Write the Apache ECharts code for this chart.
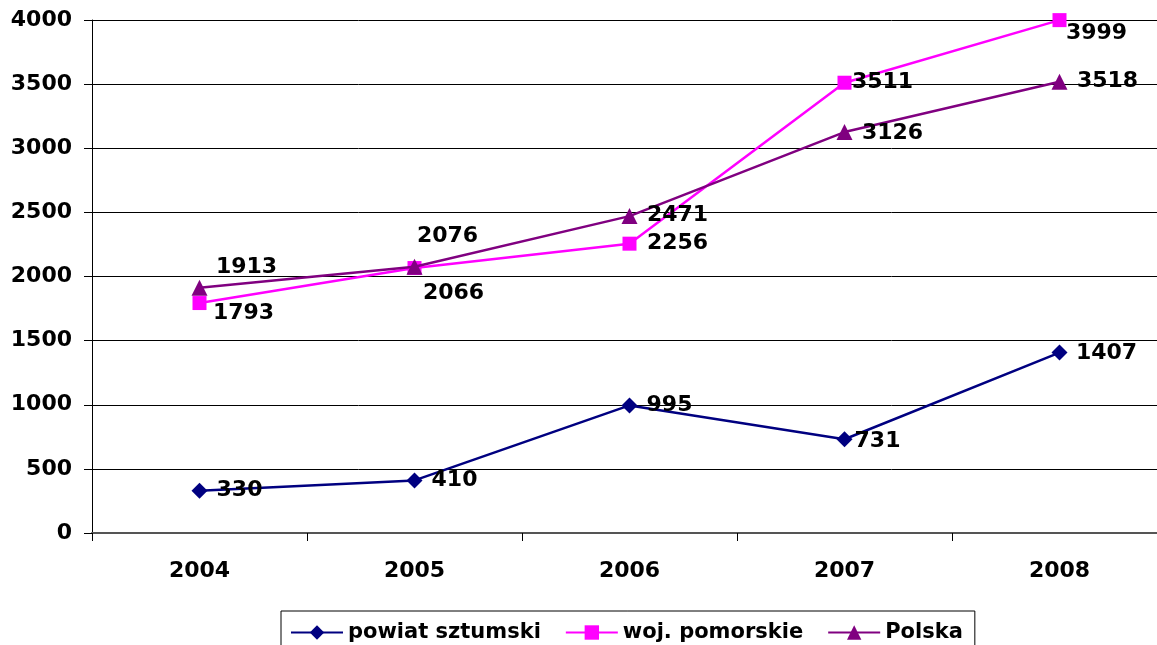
<!DOCTYPE html>
<html>
<head>
<meta charset="utf-8">
<script src="https://cdn.jsdelivr.net/npm/echarts@6/dist/echarts.min.js"></script>
<style>html,body{margin:0;padding:0;background:#fff}#c{width:1157px;height:645px}</style>
</head>
<body>
<div id="c"></div>
<script>
const categories = ['2004', '2005', '2006', '2007', '2008'];
const powiat = [330, 410, 995, 731, 1407];
const pomorskie = [1793, 2066, 2256, 3511, 3999];
const polska = [1913, 2076, 2471, 3126, 3518];
const yTicks = [0, 500, 1000, 1500, 2000, 2500, 3000, 3500, 4000];

const powiatOff = [[40,0],[40,0],[40,0],[33,2],[47,1]];
const pomOff = [[44,10],[39,25],[48,0],[38,0],[37,13]];
const polOff = [[47,-20],[33,-30],[48,-1],[48,1],[48,-1]];

const FONT = 'DejaVu Sans';
function mk(vals, offs) {
  return vals.map((v, i) => ({
    value: v,
    label: { offset: offs[i] }
  }));
}
const lbl = { show: true, position: 'inside', align: 'center', verticalAlign: 'middle',
  color: '#000', fontFamily: FONT, fontWeight: 'bold', fontSize: 22 };

const chart = echarts.init(document.getElementById('c'), null, { renderer: 'canvas' });
chart.setOption({
  animation: false,
  backgroundColor: '#fff',
  textStyle: { fontFamily: FONT },
  grid: { left: 92, width: 1075, top: 20, height: 513, containLabel: false, outerBoundsMode: 'none' },
  xAxis: {
    type: 'category', data: categories, boundaryGap: true,
    axisLine: { lineStyle: { color: '#555', width: 2 } },
    axisTick: { show: true, length: 8, lineStyle: { color: '#000' } },
    axisLabel: { color: '#000', fontFamily: FONT, fontWeight: 'bold', fontSize: 22, margin: 27 },
    splitLine: { show: false }
  },
  yAxis: {
    type: 'value', min: 0, max: 4000, interval: 500,
    axisLine: { show: true, lineStyle: { color: '#000', width: 1 } },
    axisTick: { show: true, length: 8, lineStyle: { color: '#000' } },
    axisLabel: { color: '#000', fontFamily: FONT, fontWeight: 'bold', fontSize: 22, margin: 20,
      formatter: v => yTicks.includes(v) ? String(v) : '' },
    splitLine: { show: true, lineStyle: { color: '#000', width: 1 } }
  },
  legend: {
    top: 611, left: 281,
    data: ['powiat sztumski', 'woj. pomorskie', 'Polska'],
    itemWidth: 52, itemHeight: 18, itemGap: 24,
    borderColor: '#000', borderWidth: 1, padding: [11, 12, 12, 9],
    textStyle: { color: '#000', fontFamily: FONT, fontWeight: 'bold', fontSize: 21 }
  },
  series: [
    { name: 'powiat sztumski', type: 'line', data: mk(powiat, powiatOff),
      symbol: 'diamond', symbolSize: 16,
      lineStyle: { color: '#000080', width: 2.5 }, itemStyle: { color: '#000080' },
      label: lbl, z: 3 },
    { name: 'woj. pomorskie', type: 'line', data: mk(pomorskie, pomOff),
      symbol: 'rect', symbolSize: 14,
      lineStyle: { color: '#ff00ff', width: 2.5 }, itemStyle: { color: '#ff00ff' },
      label: lbl, z: 3 },
    { name: 'Polska', type: 'line', data: mk(polska, polOff),
      symbol: 'triangle', symbolSize: 16,
      lineStyle: { color: '#800080', width: 2.5 }, itemStyle: { color: '#800080' },
      label: lbl, z: 4 }
  ]
});
</script>
</body>
</html>
